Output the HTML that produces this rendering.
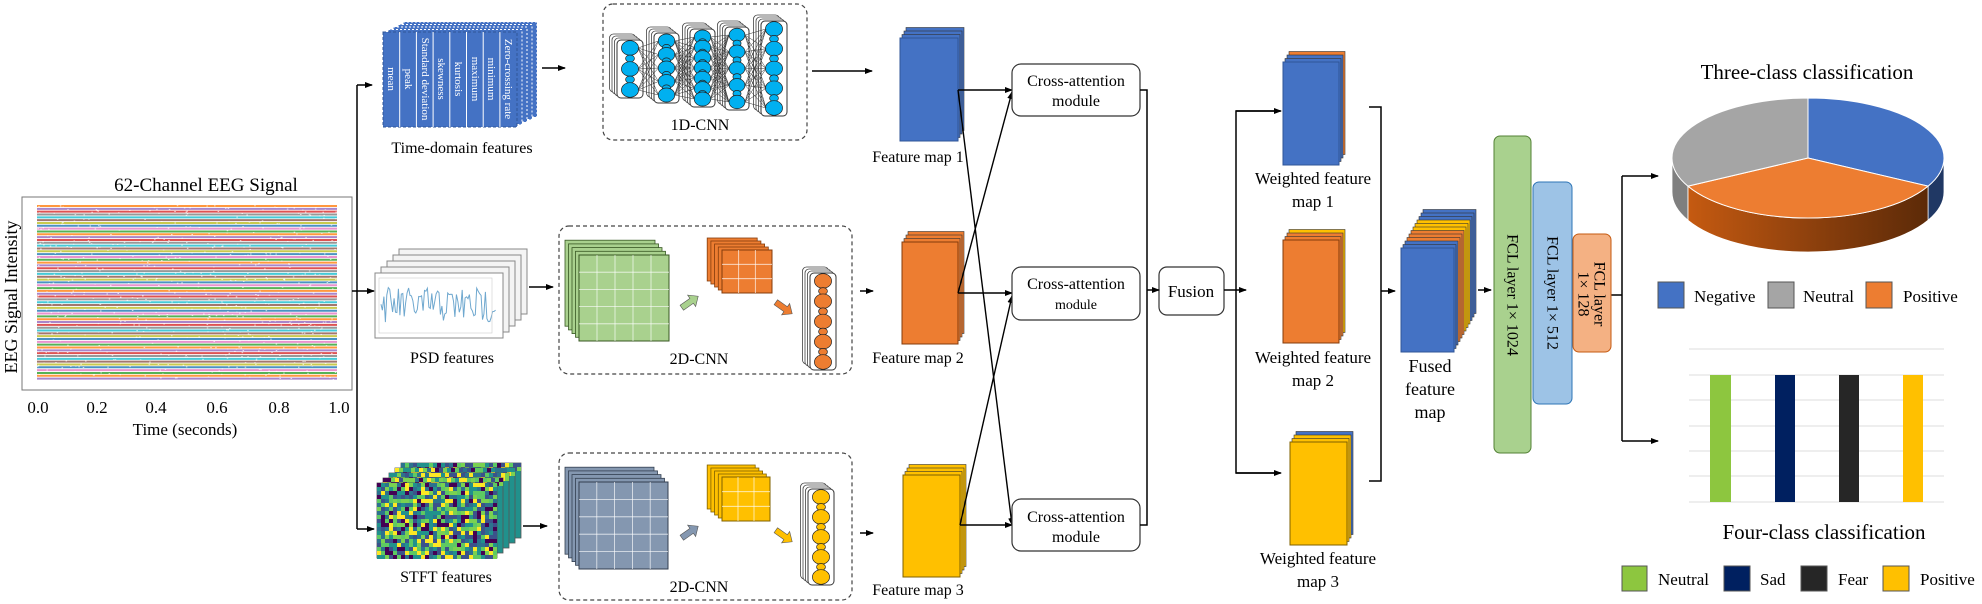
<!DOCTYPE html>
<html><head><meta charset="utf-8"><style>
html,body{margin:0;padding:0;background:#fff;}
svg{display:block;font-family:"Liberation Serif",serif;}
</style></head><body>
<svg id="s" width="1982" height="604" viewBox="0 0 1982 604" xmlns="http://www.w3.org/2000/svg">
<defs>
<marker id="ar" markerWidth="8" markerHeight="8" refX="7" refY="4" orient="auto" markerUnits="userSpaceOnUse"><path d="M0,1 L8,4 L0,7 Z" fill="#000"/></marker>
<linearGradient id="og" x1="0" x2="1" y1="0" y2="0"><stop offset="0" stop-color="#c55a11"/><stop offset="0.6" stop-color="#843c0c"/><stop offset="1" stop-color="#5c2a08"/></linearGradient>
</defs>
<g id="dyn"></g>

<!-- EEG plot -->
<rect x="22" y="197" width="330" height="193" fill="none" stroke="#777" stroke-width="1"/>
<text x="206" y="191" font-size="19" text-anchor="middle">62-Channel EEG Signal</text>
<g font-size="17" text-anchor="middle">
<text x="38" y="413">0.0</text><text x="97" y="413">0.2</text><text x="156" y="413">0.4</text><text x="217" y="413">0.6</text><text x="279" y="413">0.8</text><text x="339" y="413">1.0</text>
</g>
<text x="185" y="435" font-size="17" text-anchor="middle">Time (seconds)</text>
<text transform="translate(17,297) rotate(-90)" font-size="18" text-anchor="middle">EEG Signal Intensity</text>

<!-- branch arrows -->
<g stroke="#000" stroke-width="1.5" fill="none">
<path d="M357,85 L357,529"/>
<path d="M357,85 L372,85" marker-end="url(#ar)"/>
<path d="M352,291 L374,291" marker-end="url(#ar)"/>
<path d="M357,529 L374,529" marker-end="url(#ar)"/>
<path d="M542,68 L565,68" marker-end="url(#ar)"/>
<path d="M812,71 L872,71" marker-end="url(#ar)"/>
<path d="M529,287 L553,287" marker-end="url(#ar)"/>
<path d="M523,526 L547,526" marker-end="url(#ar)"/>
<path d="M860,291 L873,291" marker-end="url(#ar)"/>
<path d="M860,533 L873,533" marker-end="url(#ar)"/>
</g>

<!-- Time-domain features block -->
<g id="td"></g>
<g font-size="11" fill="#fff" text-anchor="middle" dominant-baseline="central">
<text transform="translate(391,79) rotate(90)">mean</text>
<text transform="translate(408,79) rotate(90)">peak</text>
<text transform="translate(425,79) rotate(90)">Standard deviation</text>
<text transform="translate(441,79) rotate(90)">skewness</text>
<text transform="translate(458,79) rotate(90)">kurtosis</text>
<text transform="translate(475,79) rotate(90)">maximum</text>
<text transform="translate(491,79) rotate(90)">minimum</text>
<text transform="translate(508,79) rotate(90)">Zero-crossing rate</text>
</g>
<text x="462" y="153" font-size="16" text-anchor="middle">Time-domain features</text>
<text x="452" y="363" font-size="16" text-anchor="middle">PSD features</text>
<text x="446" y="582" font-size="16" text-anchor="middle">STFT features</text>

<!-- dashed boxes -->
<g fill="none" stroke="#444" stroke-width="1.2" stroke-dasharray="4,3">
<rect x="603" y="4" width="204" height="136" rx="10"/>
<rect x="559" y="226" width="293" height="148" rx="10"/>
<rect x="559" y="453" width="293" height="147" rx="10"/>
</g>
<g font-size="16" text-anchor="middle">
<text x="700" y="130">1D-CNN</text>
<text x="699" y="364">2D-CNN</text>
<text x="699" y="592">2D-CNN</text>
</g>

<g id="cnn"></g>

<!-- feature maps labels -->
<g font-size="16" text-anchor="middle">
<text x="918" y="162">Feature map 1</text>
<text x="918" y="363">Feature map 2</text>
<text x="918" y="595">Feature map 3</text>
</g>

<!-- crossing lines -->
<g stroke="#000" stroke-width="1.4" fill="none">
<path d="M958,90 L1012,90" marker-end="url(#ar)"/>
<path d="M958,90 L1012,525" marker-end="url(#ar)"/>
<path d="M958,293 L1012,92" marker-end="url(#ar)"/>
<path d="M958,293 L1012,293" marker-end="url(#ar)"/>
<path d="M960,525 L1012,296" marker-end="url(#ar)"/>
<path d="M960,525 L1012,525" marker-end="url(#ar)"/>
</g>
<g fill="#fff" stroke="#333" stroke-width="1.2">
<rect x="1012" y="64" width="128" height="52" rx="9"/>
<rect x="1012" y="267" width="128" height="53" rx="9"/>
<rect x="1012" y="499" width="128" height="52" rx="9"/>
<rect x="1159" y="267" width="65" height="48" rx="8"/>
</g>
<g font-size="16" text-anchor="middle">
<text x="1076" y="86">Cross-attention</text><text x="1076" y="106">module</text>
<text x="1076" y="289">Cross-attention</text><text x="1076" y="309" font-size="14">module</text>
<text x="1076" y="522">Cross-attention</text><text x="1076" y="542">module</text>
<text x="1191" y="297" font-size="17">Fusion</text>
</g>
<g stroke="#000" stroke-width="1.5" fill="none">
<path d="M1140,90 L1147,90 L1147,525 L1140,525"/>
<path d="M1147,290 L1159,290" marker-end="url(#ar)"/>
<path d="M1224,290 L1246,290" marker-end="url(#ar)"/>
<path d="M1280,111 L1236,111 L1236,473 L1280,473"/>
<path d="M1236,111 L1281,111" marker-end="url(#ar)"/>
<path d="M1236,473 L1281,473" marker-end="url(#ar)"/>
<path d="M1369,107 L1381,107 L1381,481 L1369,481"/>
<path d="M1381,291 L1395,291" marker-end="url(#ar)"/>
<path d="M1478,290 L1491,290" marker-end="url(#ar)"/>
<path d="M1611,295 L1622,295"/>
<path d="M1622,176 L1622,441"/>
<path d="M1622,176 L1658,176" marker-end="url(#ar)"/>
<path d="M1622,441 L1658,441" marker-end="url(#ar)"/>
</g>
<g font-size="17" text-anchor="middle">
<text x="1313" y="184">Weighted feature</text><text x="1313" y="207">map 1</text>
<text x="1313" y="363">Weighted feature</text><text x="1313" y="386">map 2</text>
<text x="1318" y="564">Weighted feature</text><text x="1318" y="587">map 3</text>
<text x="1430" y="372" font-size="18">Fused</text><text x="1430" y="395" font-size="18">feature</text><text x="1430" y="418" font-size="18">map</text>
</g>

<!-- FCL -->
<rect x="1494" y="136" width="37" height="317" rx="6" fill="#a9d18e" stroke="#538135" stroke-width="1"/>
<rect x="1533" y="182" width="39" height="222" rx="6" fill="#9dc3e6" stroke="#2e75b6" stroke-width="1"/>
<rect x="1573" y="234" width="38" height="118" rx="6" fill="#f4b183" stroke="#c55a11" stroke-width="1"/>
<g font-size="16" text-anchor="middle" dominant-baseline="central">
<text transform="translate(1512,295) rotate(90)">FCL layer 1× 1024</text>
<text transform="translate(1552,293) rotate(90)">FCL layer 1× 512</text>
<text transform="translate(1599,294) rotate(90)">FCL layer</text>
<text transform="translate(1583,294) rotate(90)">1× 128</text>
</g>

<!-- pie -->
<text x="1807" y="79" font-size="21" text-anchor="middle">Three-class classification</text>
<g id="pie"></g>
<g stroke="#555" stroke-width="1">
<rect x="1658" y="282" width="26" height="26" fill="#4472c4"/>
<rect x="1768" y="282" width="26" height="26" fill="#a5a5a5"/>
<rect x="1866" y="282" width="26" height="26" fill="#ed7d31"/>
</g>
<g font-size="17">
<text x="1694" y="302">Negative</text><text x="1803" y="302">Neutral</text><text x="1903" y="302">Positive</text>
</g>

<!-- bars -->
<g stroke="#ddd" stroke-width="1">
<line x1="1689" y1="349" x2="1944" y2="349"/><line x1="1689" y1="375" x2="1944" y2="375"/>
<line x1="1689" y1="400" x2="1944" y2="400"/><line x1="1689" y1="426" x2="1944" y2="426"/>
<line x1="1689" y1="451" x2="1944" y2="451"/><line x1="1689" y1="476" x2="1944" y2="476"/>
<line x1="1689" y1="502" x2="1944" y2="502"/>
</g>
<rect x="1710" y="375" width="21" height="127" fill="#8dc63f"/>
<rect x="1775" y="375" width="20" height="127" fill="#002060"/>
<rect x="1839" y="375" width="20" height="127" fill="#262626"/>
<rect x="1903" y="375" width="20" height="127" fill="#ffc000"/>
<text x="1824" y="539" font-size="21" text-anchor="middle">Four-class classification</text>
<g stroke="#555" stroke-width="1">
<rect x="1622" y="566" width="25" height="25" fill="#8dc63f"/>
<rect x="1724" y="566" width="26" height="25" fill="#002060"/>
<rect x="1801" y="566" width="26" height="25" fill="#262626"/>
<rect x="1883" y="566" width="26" height="25" fill="#ffc000"/>
</g>
<g font-size="17">
<text x="1658" y="585">Neutral</text><text x="1760" y="585">Sad</text><text x="1838" y="585">Fear</text><text x="1920" y="585">Positive</text>
</g>
</svg>
<script>
(function(){
var NS="http://www.w3.org/2000/svg";
function el(p,t,a){var e=document.createElementNS(NS,t);for(var k in a)e.setAttribute(k,a[k]);p.appendChild(e);return e;}
var dyn=document.getElementById('dyn');
var seed=7;function rnd(){seed=(seed*16807)%2147483647;return seed/2147483647;}
// EEG lines
var cols=["#ff7f0e","#1f77b4","#17becf","#9467bd","#e377c2","#8c564b","#d62728","#2ca02c","#bcbd22","#7f7f7f"];
for(var i=0;i<62;i++){var y=206+i*2.83;el(dyn,'line',{x1:37,y1:y,x2:337,y2:y,stroke:cols[(i*3)%10],'stroke-width':2,opacity:0.8});}
// white speckle
for(var j=0;j<700;j++){el(dyn,'rect',{x:37+rnd()*300,y:205+rnd()*175,width:1.5,height:1,fill:'#fff',opacity:0.7});}
// Time domain block
var td=document.getElementById('td');
for(var k=4;k>=1;k--){var ox=k*5,oy=-k*2.5;el(td,'rect',{x:383+ox,y:32+oy,width:134,height:95,fill:'#4472c4',stroke:'#fff','stroke-width':1,'stroke-dasharray':'2,2'});}
el(td,'rect',{x:383,y:32,width:134,height:95,fill:'#4472c4',stroke:'#2f5597','stroke-width':1,'stroke-dasharray':'3,2'});
for(var s=1;s<8;s++){el(td,'line',{x1:383+s*16.7,y1:32,x2:383+s*16.7,y2:127,stroke:'#fff','stroke-width':1});}
// PSD panels
for(var p=4;p>=0;p--){var px=375+p*6,py=273-p*6;el(dyn,'rect',{x:px,y:py,width:128,height:65,fill:p?'#f4f4f4':'#fff',stroke:'#888','stroke-width':1});}
var pts=[];for(var q=0;q<80;q++){pts.push((381+q*1.45).toFixed(1)+","+(305+(rnd()-0.5)*36).toFixed(1));}
el(dyn,'polyline',{points:pts.join(' '),fill:'none',stroke:'#6fa8cf','stroke-width':1});
el(dyn,'rect',{x:379,y:278,width:113,height:55,fill:'none',stroke:'#ccc','stroke-width':0.6});
// STFT
var vir=["#440154","#3b528b","#21918c","#5ec962","#fde725","#2c728e","#7ad151"];
for(var p2=4;p2>=0;p2--){var sx=377+p2*6,sy=483-p2*5;
 el(dyn,'rect',{x:sx,y:sy,width:120,height:75,fill:'#21918c',stroke:'#555','stroke-width':0.8});
 var rows=p2?2:19;for(var r=0;r<rows;r++)for(var c=0;c<30;c++){el(dyn,'rect',{x:sx+c*4,y:sy+r*4,width:4,height:4,fill:vir[Math.floor(rnd()*7)]});}
}
// CNN stuff
var cnn=document.getElementById('cnn');
function col(x,y,w,h,n,fill,circ,nc){
 for(var k=3;k>=1;k--)el(cnn,'rect',{x:x-k*2.5,y:y-k*2,width:w,height:h,rx:4,fill:'#fff',stroke:'#444','stroke-width':0.8});
 el(cnn,'rect',{x:x,y:y,width:w,height:h,rx:4,fill:'#fff',stroke:'#333','stroke-width':1});
 var res=[];for(var i=0;i<nc;i++){var cy=y+8+i*(h-16)/(nc-1);var big=i%2==0;var r=big?w*0.33:w*0.17;el(cnn,'ellipse',{cx:x+w/2,cy:cy,rx:r,ry:big?r*0.85:r*0.8,fill:circ,stroke:'#222','stroke-width':0.7});if(big)res.push([x+w/2,cy]);}
 return res;}
var c1=[[617,40,26,58,5],[654,33,25,70,9],[690,29,25,78,13],[725,27,24,83,9],[761,21,26,95,9]];
var prev=null;
c1.forEach(function(c){var r=col(c[0],c[1],c[2],c[3],0,'#fff','#00b0f0',c[4]);
 if(prev){prev.forEach(function(a){r.forEach(function(b){el(cnn,'line',{x1:a[0]+8,y1:a[1],x2:b[0]-8,y2:b[1],stroke:'#333','stroke-width':0.5});});});}
 prev=r;});
// grids
function grid(x,y,w,h,n,dx,dy,fill,stroke,nx,ny){
 for(var k=n;k>=1;k--)el(cnn,'rect',{x:x-k*dx,y:y-k*dy,width:w,height:h,fill:fill,stroke:stroke,'stroke-width':0.8});
 el(cnn,'rect',{x:x,y:y,width:w,height:h,fill:fill,stroke:stroke,'stroke-width':1});
 for(var i=1;i<nx;i++)el(cnn,'line',{x1:x+i*w/nx,y1:y,x2:x+i*w/nx,y2:y+h,stroke:'#fff','stroke-width':0.8,opacity:0.8});
 for(var j=1;j<ny;j++)el(cnn,'line',{x1:x,y1:y+j*h/ny,x2:x+w,y2:y+j*h/ny,stroke:'#fff','stroke-width':0.8,opacity:0.8});}
grid(579,255,90,86,4,3.5,3.7,'#a9d18e','#385723',5,5);
grid(722,250,50,43,4,3.7,3,'#ed7d31','#843c0c',3,3);
grid(579,482,89,87,4,3.5,3.7,'#8497b0','#333f50',5,5);
grid(722,477,48,44,4,3.7,3,'#ffc000','#7f6000',3,3);
function barrow(x,y,ang,fill){var g=el(cnn,'g',{transform:'translate('+x+','+y+') rotate('+ang+')'});el(g,'path',{d:'M-10,-3 L2,-3 L2,-7 L10,0 L2,7 L2,3 L-10,3 Z',fill:fill,stroke:'#555','stroke-width':0.6});}
barrow(690,302,-35,'#a9d18e');barrow(784,308,35,'#ed7d31');
barrow(690,532,-35,'#8497b0');barrow(784,536,35,'#ffc000');
col(810,273,26,97,0,'#fff','#ed7d31',9);
col(808,489,26,96,0,'#fff','#ffc000',9);
// feature maps
function fmap(x,y,w,h,layers,front,stroke){
 for(var k=layers.length;k>=1;k--)el(cnn,'rect',{x:x+k*2,y:y-k*3.5,width:w,height:h,fill:layers[k-1],stroke:'#333','stroke-width':0.6});
 el(cnn,'rect',{x:x,y:y,width:w,height:h,fill:front,stroke:stroke,'stroke-width':1});}
fmap(900,38,58,103,['#4472c4','#4472c4','#4472c4'],'#4472c4','#2f5597');
fmap(902,242,56,102,['#ed7d31','#ed7d31','#ed7d31'],'#ed7d31','#843c0c');
fmap(903,475,57,102,['#ffc000','#ffc000','#ffc000'],'#ffc000','#7f6000');
fmap(1283,62,56,103,['#4472c4','#4472c4','#ed7d31'],'#4472c4','#2f5597');
fmap(1283,240,56,103,['#ed7d31','#ed7d31','#ffc000'],'#ed7d31','#843c0c');
fmap(1290,442,57,103,['#ffc000','#ffc000','#4472c4'],'#ffc000','#7f6000');
var fl=['#4472c4','#4472c4','#ed7d31','#ed7d31','#ed7d31','#ffc000','#ffc000','#ffc000','#4472c4','#4472c4','#4472c4'];
fmap(1401,248,53,104,fl,'#4472c4','#2f5597');
// pie
var pie=document.getElementById('pie');
var cx=1808,cy=158,rx=136,ry=60,d=34;
function P(t,dd){t=t*Math.PI/180;return [cx+rx*Math.sin(t),cy-ry*Math.cos(t)+(dd||0)];}
function side(a,b,fill){var p1=P(a),p2=P(b),p3=P(b,d),p4=P(a,d);
 el(pie,'path',{d:'M'+p1+' A'+rx+','+ry+' 0 0 1 '+p2+' L'+p3+' A'+rx+','+ry+' 0 0 0 '+p4+' Z',fill:fill,stroke:'#fff','stroke-width':0.8});}
side(90,118,'#203864');side(118,242,'url(#og)');side(242,270,'#7f7f7f');
function slice(a,b,fill){var p1=P(a),p2=P(b);var lg=(b-a)>180?1:0;
 el(pie,'path',{d:'M'+cx+','+cy+' L'+p1+' A'+rx+','+ry+' 0 '+lg+' 1 '+p2+' Z',fill:fill,stroke:'#fff','stroke-width':1});}
slice(0,118,'#4472c4');slice(118,242,'#ed7d31');slice(242,360,'#a5a5a5');
})();
</script>
</body></html>
